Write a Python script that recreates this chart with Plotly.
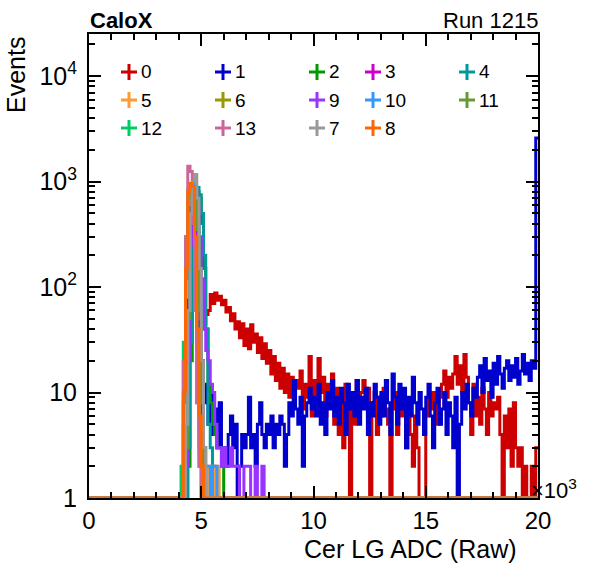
import numpy as np
import plotly.graph_objects as go

# histogram binning: 200 bins of 100 ADC counts
N_BINS = 200
X_MIN, X_MAX = 0, 20000
PEAK_FIRST_BIN = 40  # short peak lists below start at 4000 ADC

# channel 0 and 1: full 200-bin contents
ch0 = [
    0, 0, 0, 0, 0, 0, 0, 0, 0, 0,
    0, 0, 0, 0, 0, 0, 0, 0, 0, 0,
    0, 0, 0, 0, 0, 0, 0, 0, 0, 0,
    0, 0, 0, 0, 0, 0, 0, 0, 0, 0,
    0, 0, 2, 30, 350, 900, 950, 500, 150, 60,
    40, 45, 55, 60, 85, 70, 88, 75, 82, 68,
    75, 58, 64, 48, 56, 40, 47, 33, 45, 28,
    40, 26, 44, 30, 36, 24, 33, 21, 29, 19,
    25, 15, 22, 13, 19, 11, 17, 10, 15, 9,
    14, 8, 13, 11, 16, 7, 12, 9, 22, 6,
    13, 8, 21, 10, 14, 6, 12, 9, 15, 5,
    11, 4, 9, 3, 12, 7, 0, 10, 5, 13,
    7, 10, 13, 8, 11, 0, 8, 10, 4, 9,
    6, 11, 7, 5, 0, 7, 10, 4, 9, 6,
    8, 3, 7, 4, 2, 6, 3, 0, 1, 0,
    6, 9, 7, 10, 8, 5, 9, 12, 16, 9,
    14, 11, 15, 22, 12, 18, 10, 23, 14, 8,
    4, 12, 6, 9, 5, 11, 7, 4, 10, 6,
    8, 7, 9, 4, 0, 6, 3, 7, 2, 8,
    3, 2, 3, 0, 2, 1, 0, 2, 1, 3,
]
ch1 = [
    0, 0, 0, 0, 0, 0, 0, 0, 0, 0,
    0, 0, 0, 0, 0, 0, 0, 0, 0, 0,
    0, 0, 0, 0, 0, 0, 0, 0, 0, 0,
    0, 0, 0, 0, 0, 0, 0, 0, 0, 0,
    0, 0, 0, 3, 30, 150, 220, 180, 90, 40,
    20, 12, 8, 5, 10, 4, 7, 3, 8, 2,
    3, 2, 4, 6, 3, 5, 1, 2, 4, 3,
    4, 9, 3, 4, 2, 5, 8, 4, 3, 5,
    4, 6, 3, 5, 4, 6, 5, 2, 4, 8,
    6, 13, 7, 5, 9, 2, 6, 8, 11, 7,
    9, 6, 12, 5, 8, 4, 10, 7, 13, 6,
    9, 5, 11, 8, 4, 12, 7, 10, 6, 13,
    5, 9, 7, 11, 4, 8, 6, 12, 9, 5,
    10, 6, 13, 8, 4, 15, 9, 5, 12, 7,
    11, 3, 9, 6, 14, 8, 5, 10, 7, 4,
    9, 12, 6, 3, 8, 11, 5, 7, 10, 4,
    8, 6, 3, 9, 0, 5, 10, 7, 12, 8,
    6, 11, 9, 14, 18, 10, 21, 13, 16, 9,
    19, 12, 22, 15, 11, 17, 20, 13, 18, 14,
    21, 12, 16, 23, 15, 19, 13, 20, 17, 2600,
]

# other channels: contents from bin PEAK_FIRST_BIN on, zero elsewhere
ch2 = [0, 0, 0, 0, 2, 20, 200, 600, 800, 700, 400, 150, 40, 12, 8, 5, 4, 3, 3, 2]
ch3 = [0, 0, 0, 3, 40, 400, 900, 800, 300, 50, 5, 1]
ch4 = [0, 0, 0, 0, 3, 30, 250, 700, 880, 750, 500, 200, 40, 5, 3, 2]
ch5 = [0, 0, 5, 80, 600, 950, 700, 250, 30, 4, 2, 2, 1, 2, 2, 2, 1, 2]
ch6 = [0, 0, 8, 120, 700, 900, 600, 200, 25, 3]
ch9 = [0, 0, 0, 2, 20, 250, 700, 850, 600, 300, 120, 40, 25, 20, 12, 10, 5, 3, 3,
       2, 3, 2, 2, 3, 2, 2, 2, 1, 0, 2, 2, 2, 0, 0, 2, 0, 0, 2]
ch10 = [0, 0, 0, 4, 60, 500, 950, 900, 400, 80, 10, 3, 2, 2, 1, 2, 2, 1]
ch11 = [0, 0, 0, 3, 50, 450, 900, 850, 350, 60, 8, 2]
ch12 = [0, 2, 30, 300, 850, 900, 400, 70, 8, 2]
ch13 = [0, 0, 20, 300, 1400, 1250, 400, 60, 8, 2]
ch7 = [0, 0, 0, 5, 60, 500, 1000, 1170, 700, 150, 20, 3, 1]
ch8 = [0, 0, 10, 150, 800, 960, 900, 300, 40, 6, 2, 1]

labels = ['0', '1', '2', '3', '4', '5', '6', '9', '10', '11', '12', '13', '7', '8']
series = [ch0, ch1, ch2, ch3, ch4, ch5, ch6, ch9, ch10, ch11, ch12, ch13, ch7, ch8]
colors = ['#cc0000', '#0000cc', '#009900', '#cc00cc', '#009999', '#ff9933', '#999900',
          '#9933ff', '#3399ff', '#669933', '#00cc66', '#cc6699', '#999999', '#ff6600']

FONT = 'Liberation Sans, Arial, Helvetica, sans-serif'

edges = np.linspace(X_MIN, X_MAX, N_BINS + 1)

fig = go.Figure()
for lab, vals, col in zip(labels, series, colors):
    counts = np.zeros(N_BINS)
    if len(vals) == N_BINS:
        counts[:] = vals
    else:
        counts[PEAK_FIRST_BIN:PEAK_FIRST_BIN + len(vals)] = vals
    # empty bins sit on the bottom of the log axis, like ROOT draws them
    y = np.maximum(counts, 1)
    fig.add_trace(go.Scatter(
        x=edges, y=np.append(y, y[-1]),
        mode='lines', line=dict(color=col, width=3, shape='hv'),
        name=lab, showlegend=False, hoverinfo='skip'
    ))

# figure fills the whole page (body margin removed when the page loads)
W, H = 596, 572
L, T = 89, 34
pw, ph = 449, 464
R, B = W - L - pw, H - T - ph


def px_x(px):
    return (px - L) / pw


def px_y(py):
    return (T + ph - py) / ph


# hand-made legend, 5 columns like the ROOT TLegend
col_px = [129, 223, 317, 373, 467]
row_px = [72, 100, 128]

shapes = []
annotations = []
for i, (lab, col) in enumerate(zip(labels, colors)):
    cx = px_x(col_px[i % 5])
    cy = px_y(row_px[i // 5])
    shapes.append(dict(type='line', xref='paper', yref='paper', xsizemode='pixel',
                       ysizemode='pixel', xanchor=cx, yanchor=cy, x0=-8, x1=8, y0=0, y1=0,
                       line=dict(color=col, width=3)))
    shapes.append(dict(type='line', xref='paper', yref='paper', xsizemode='pixel',
                       ysizemode='pixel', xanchor=cx, yanchor=cy, x0=0, x1=0, y0=-8, y1=8,
                       line=dict(color=col, width=3)))
    annotations.append(dict(xref='paper', yref='paper', x=cx, y=cy, xshift=10,
                            text=lab, showarrow=False, xanchor='left', yanchor='middle',
                            font=dict(family=FONT, size=19, color='black')))

annotations += [
    dict(xref='paper', yref='paper', x=px_x(88), y=px_y(20), text='<b>CaloX</b>',
         showarrow=False, xanchor='left', yanchor='middle',
         font=dict(family=FONT, size=22, color='black')),
    dict(xref='paper', yref='paper', x=px_x(540), y=px_y(20), text='Run 1215',
         showarrow=False, xanchor='right', yanchor='middle',
         font=dict(family=FONT, size=22, color='black')),
    dict(xref='paper', yref='paper', x=px_x(519), y=px_y(549),
         text='Cer LG ADC (Raw)', showarrow=False, xanchor='right', yanchor='middle',
         font=dict(family=FONT, size=25, color='black')),
    dict(xref='paper', yref='paper', x=px_x(16), y=px_y(35),
         text='Events', textangle=-90, showarrow=False, xanchor='center', yanchor='top',
         font=dict(family=FONT, size=25, color='black')),
    dict(xref='paper', yref='paper', x=px_x(529), y=px_y(489),
         text='×10<sup>3</sup>', showarrow=False, xanchor='left', yanchor='middle',
         font=dict(family=FONT, size=22, color='black')),
]

minor_y = [m * 10 ** e for e in range(0, 5) for m in range(2, 10)]

fig.update_layout(
    width=W, height=H,
    margin=dict(l=L, r=R, t=T, b=B),
    paper_bgcolor='white', plot_bgcolor='white',
    font=dict(family=FONT, size=24, color='black'),
    shapes=shapes, annotations=annotations,
    xaxis=dict(
        range=[X_MIN, X_MAX], showgrid=False, zeroline=False,
        showline=True, linecolor='black', linewidth=2, mirror='ticks',
        ticks='inside', ticklen=12, tickwidth=1.5, tickcolor='black',
        tickvals=[0, 5000, 10000, 15000, 20000], ticktext=['0', '5', '10', '15', '20'],
        tickfont=dict(size=24), ticklabelstandoff=0,
        minor=dict(ticks='inside', ticklen=6, tickwidth=1.5, tickcolor='black',
                   dtick=1000, showgrid=False),
    ),
    yaxis=dict(
        type='log', range=[0, 4.4], showgrid=False, zeroline=False,
        showline=True, linecolor='black', linewidth=2, mirror='ticks',
        ticks='inside', ticklen=12, tickwidth=1.5, tickcolor='black',
        tickvals=[1, 10, 100, 1000, 10000],
        ticktext=['1', '10', '10<sup>2</sup>', '10<sup>3</sup>', '10<sup>4</sup>'],
        tickfont=dict(size=25), ticklabelstandoff=5,
        minor=dict(ticks='inside', ticklen=6, tickwidth=1.5, tickcolor='black',
                   tickvals=minor_y, showgrid=False),
    ),
)

fig.write_html('out.html', config={'displayModeBar': False},
               post_script="document.body.style.margin = '0px';")
